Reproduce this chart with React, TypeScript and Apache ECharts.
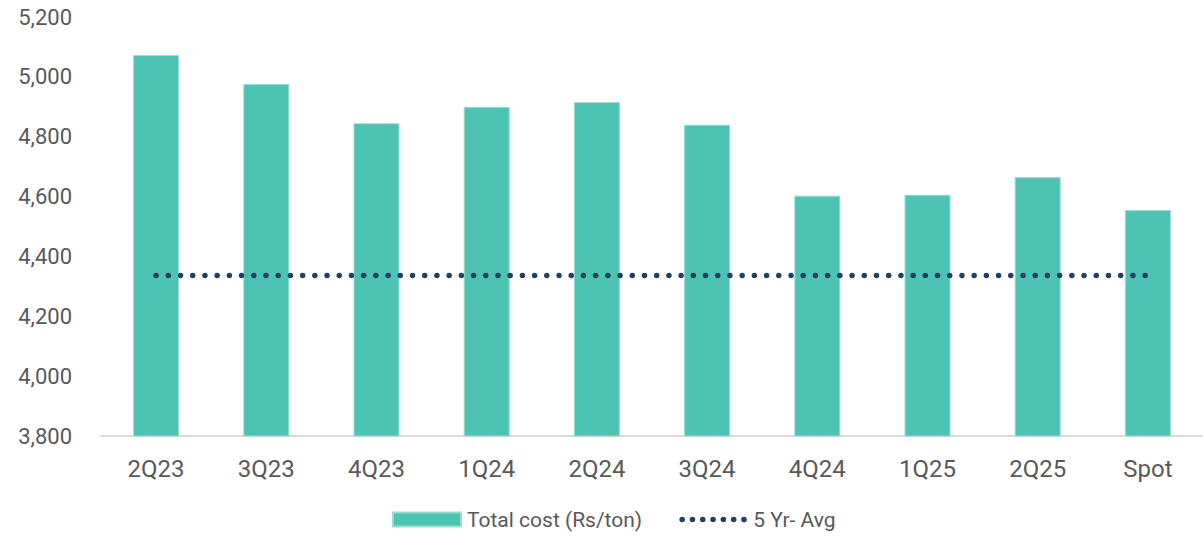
import React, { useEffect, useRef } from "react";
import * as echarts from "echarts";

const categories = ["2Q23", "3Q23", "4Q23", "1Q24", "2Q24", "3Q24", "4Q24", "1Q25", "2Q25", "Spot"];
const totalCost = [5073, 4976, 4845, 4900, 4916, 4840, 4603, 4606, 4665, 4555];
const fiveYrAvg = [4336, 4336, 4336, 4336, 4336, 4336, 4336, 4336, 4336, 4336];
const yTicks = { min: 3800, max: 5200, interval: 200 };

function dotsIcon(): string {
  let d = "M0 0h0.001v0.001h-0.001Z M67.999 13.999h0.001v0.001h-0.001Z";
  const r = 2.8;
  for (let i = 0; i < 7; i++) {
    const cx = 3 + i * 10.3;
    d += ` M${cx - r} 7a${r} ${r} 0 1 0 ${2 * r} 0a${r} ${r} 0 1 0 ${-2 * r} 0Z`;
  }
  return "path://" + d;
}

export default function App() {
  const ref = useRef<HTMLDivElement>(null);
  useEffect(() => {
    const chart = echarts.init(ref.current!, undefined, { renderer: "svg" });
    const font = "Roboto";
    chart.setOption({
      animation: false,
      backgroundColor: "#ffffff",
      textStyle: { fontFamily: font },
      grid: { left: 101, top: 17, width: 1104, bottom: 103, containLabel: false },
      legend: {
        bottom: 4,
        left: 387,
        itemWidth: 68,
        itemHeight: 14,
        itemGap: 37,
        textStyle: { fontFamily: font, fontSize: 21, color: "#595959", padding: [0, 0, 0, 1] },
        data: [
          { name: "Total cost (Rs/ton)", icon: "rect" },
          { name: "5 Yr- Avg", icon: dotsIcon(), itemStyle: { color: "#243F60" } },
        ],
      },
      xAxis: {
        type: "category",
        data: categories,
        axisLine: { show: true, lineStyle: { color: "#d9d9d9", width: 2 } },
        axisTick: { show: false },
        axisLabel: { color: "#595959", fontSize: 24, margin: 21, fontFamily: font },
      },
      yAxis: {
        type: "value",
        min: yTicks.min,
        max: yTicks.max,
        interval: yTicks.interval,
        axisLine: { show: false },
        axisTick: { show: false },
        splitLine: { show: false },
        axisLabel: {
          color: "#595959",
          fontSize: 22,
          margin: 29,
          fontFamily: font,
          formatter: (v: number) => v.toLocaleString("en-US"),
        },
      },
      series: [
        {
          name: "Total cost (Rs/ton)",
          type: "bar",
          data: totalCost,
          barWidth: 46,
          itemStyle: { color: "#4DC3B3", borderColor: "#9adcd2", borderWidth: 1 },
        },
        {
          name: "5 Yr- Avg",
          type: "line",
          data: fiveYrAvg,
          symbol: "none",
          showSymbol: false,
          lineStyle: { color: "#243F60", width: 5.5, type: [0.01, 12.2], cap: "round" },
          itemStyle: { color: "#243F60" },
        },
      ],
    });
    return () => chart.dispose();
  }, []);
  return (
    <div
      ref={ref}
      style={{ position: "absolute", left: 0, top: 0, width: 1203, height: 539 }}
    />
  );
}
